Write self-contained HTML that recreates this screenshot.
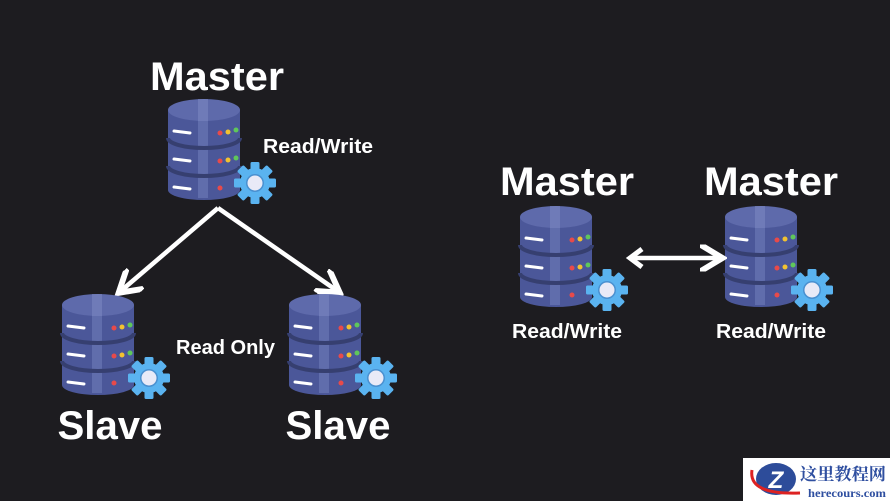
<!DOCTYPE html>
<html><head><style>
html,body{margin:0;padding:0;background:#1d1c20;}
svg{display:block}
text{font-family:"Liberation Sans",sans-serif;font-weight:bold;fill:#fff}
</style></head><body>
<svg width="890" height="501" viewBox="0 0 890 501">
<defs>
<g id="db">
  <path d="M0 12 L0 92 A36 10 0 0 0 72 92 L72 12 Z" fill="#4b5799"/>
  <rect x="30" y="5" width="10" height="95" fill="#6a76b3" opacity="0.7"/>
  <path d="M0 40 A36 10 0 0 0 72 40" stroke="#363f70" stroke-width="4" fill="none"/>
  <path d="M0 68 A36 10 0 0 0 72 68" stroke="#363f70" stroke-width="4" fill="none"/>
  <ellipse cx="36" cy="12" rx="36" ry="11" fill="#5e6aab"/>
  <rect x="30" y="1" width="10" height="22" fill="#7b87c2" opacity="0.6"/>
  <line x1="6" y1="33" x2="22" y2="35" stroke="#fff" stroke-width="3" stroke-linecap="round"/>
  <line x1="6" y1="61" x2="22" y2="63" stroke="#fff" stroke-width="3" stroke-linecap="round"/>
  <line x1="6" y1="89" x2="22" y2="91" stroke="#fff" stroke-width="3" stroke-linecap="round"/>
  <circle cx="52" cy="35" r="2.5" fill="#e84a4a"/><circle cx="60" cy="34" r="2.5" fill="#f2c230"/><circle cx="68" cy="32" r="2.5" fill="#5fc75a"/>
  <circle cx="52" cy="63" r="2.5" fill="#e84a4a"/><circle cx="60" cy="62" r="2.5" fill="#f2c230"/><circle cx="68" cy="60" r="2.5" fill="#5fc75a"/>
  <circle cx="52" cy="90" r="2.5" fill="#e84a4a"/>
  <g transform="translate(87 85)">
    <circle r="15" fill="#5ab3f0"/>
    <g fill="#5ab3f0">
      <rect x="-4.5" y="-21" width="9" height="42" rx="1.5"/>
      <rect x="-4.5" y="-21" width="9" height="42" rx="1.5" transform="rotate(45)"/>
      <rect x="-4.5" y="-21" width="9" height="42" rx="1.5" transform="rotate(90)"/>
      <rect x="-4.5" y="-21" width="9" height="42" rx="1.5" transform="rotate(135)"/>
    </g>
    <circle r="9" fill="#4a90d0"/>
    <circle r="7.5" fill="#e9eaf7"/>
  </g>
</g>
<marker id="ah" markerWidth="6" markerHeight="6" refX="4" refY="3" orient="auto" markerUnits="strokeWidth">
  <path d="M0 0 L5 3 L0 6" fill="none" stroke="#fff" stroke-width="1.3"/>
</marker>
</defs>

<text x="217" y="90" font-size="40" text-anchor="middle" textLength="134" lengthAdjust="spacingAndGlyphs">Master</text>
<use href="#db" x="168" y="98"/>
<text x="263" y="153" font-size="20" textLength="110" lengthAdjust="spacingAndGlyphs">Read/Write</text>

<line x1="218" y1="208" x2="122" y2="290" stroke="#fff" stroke-width="4.5" marker-end="url(#ah)"/>
<line x1="218" y1="208" x2="336" y2="290" stroke="#fff" stroke-width="4.5" marker-end="url(#ah)"/>

<use href="#db" x="62" y="293"/>
<use href="#db" x="289" y="293"/>
<text x="176" y="354" font-size="20" textLength="99" lengthAdjust="spacingAndGlyphs">Read Only</text>
<text x="110" y="439" font-size="40" text-anchor="middle" textLength="105" lengthAdjust="spacingAndGlyphs">Slave</text>
<text x="338" y="439" font-size="40" text-anchor="middle" textLength="105" lengthAdjust="spacingAndGlyphs">Slave</text>

<text x="567" y="195" font-size="40" text-anchor="middle" textLength="134" lengthAdjust="spacingAndGlyphs">Master</text>
<text x="771" y="195" font-size="40" text-anchor="middle" textLength="134" lengthAdjust="spacingAndGlyphs">Master</text>
<use href="#db" x="520" y="205"/>
<use href="#db" x="725" y="205"/>
<line x1="634" y1="258" x2="718" y2="258" stroke="#fff" stroke-width="4.5" marker-end="url(#ah)"/>
<path d="M642 249 L630 258 L642 267" fill="none" stroke="#fff" stroke-width="5"/>
<text x="567" y="338" font-size="20" text-anchor="middle" textLength="110" lengthAdjust="spacingAndGlyphs">Read/Write</text>
<text x="771" y="338" font-size="20" text-anchor="middle" textLength="110" lengthAdjust="spacingAndGlyphs">Read/Write</text>

<rect x="743" y="458" width="147" height="43" fill="#fff"/>
<ellipse cx="776" cy="479" rx="20" ry="16" fill="#2d4c9a"/>
<text x="776" y="488" font-size="24" text-anchor="middle" style="font-style:italic">Z</text>
<path d="M752 470 Q748 495 800 493" stroke="#d22" stroke-width="3" fill="none"/>
<text x="800" y="480" font-size="17" textLength="86" lengthAdjust="spacingAndGlyphs" style="fill:#2f4fa0;font-family:'Noto Serif CJK SC','Noto Sans CJK SC',serif">这里教程网</text>
<text x="808" y="497" font-size="12" textLength="78" lengthAdjust="spacingAndGlyphs" style="fill:#2f4fa0;font-family:'Liberation Serif',serif">herecours.com</text>
</svg>
</body></html>
